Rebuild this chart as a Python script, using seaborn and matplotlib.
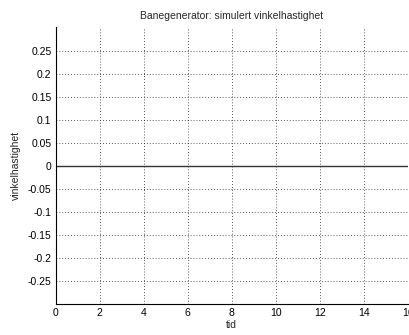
import matplotlib
matplotlib.use("Agg")
import matplotlib.pyplot as plt
import seaborn as sns
import pandas as pd

# Data
tid = [0, 16]
vinkelhastighet = [0.0, 0.0]
x_ticks = [0, 2, 4, 6, 8, 10, 12, 14, 16]
y_ticks = [-0.25, -0.2, -0.15, -0.1, -0.05, 0, 0.05, 0.1, 0.15, 0.2, 0.25]
y_tick_labels = ["-0.25", "-0.2", "-0.15", "-0.1", "-0.05", "0", "0.05", "0.1", "0.15", "0.2", "0.25"]

sns.set_style("white")
plt.rcParams['font.family'] = ['Liberation Sans', 'DejaVu Sans']

df = pd.DataFrame({"tid": tid, "vinkelhastighet": vinkelhastighet})

fig = plt.figure(figsize=(4.09, 3.35), dpi=100)
ax = fig.add_axes([0.136, 0.0925, 0.8616, 0.8255])

sns.lineplot(data=df, x="tid", y="vinkelhastighet", ax=ax, color="#333333", linewidth=1.0)

ax.set_xlim(0, 16)
ax.set_ylim(-0.3, 0.3)
ax.set_xticks(x_ticks)
ax.set_xticklabels([str(v) for v in x_ticks])
ax.set_yticks(y_ticks)
ax.set_yticklabels(y_tick_labels)
ax.grid(True, linestyle=(0, (1, 2.5)), color="#222222", linewidth=0.6)
ax.tick_params(direction="in", length=3, width=0.6, labelsize=7.5, colors="black", pad=3)
for s in ["top", "right"]:
    ax.spines[s].set_visible(False)
for s in ["left", "bottom"]:
    ax.spines[s].set_color("black")
    ax.spines[s].set_linewidth(0.8)

ax.set_title("Banegenerator: simulert vinkelhastighet", fontsize=7.5, pad=6)
ax.set_xlabel("tid", fontsize=7.5, labelpad=1)
ax.set_ylabel("vinkelhastighet", fontsize=7.5, labelpad=5)

fig.savefig("out.png", dpi=100, facecolor="white")
